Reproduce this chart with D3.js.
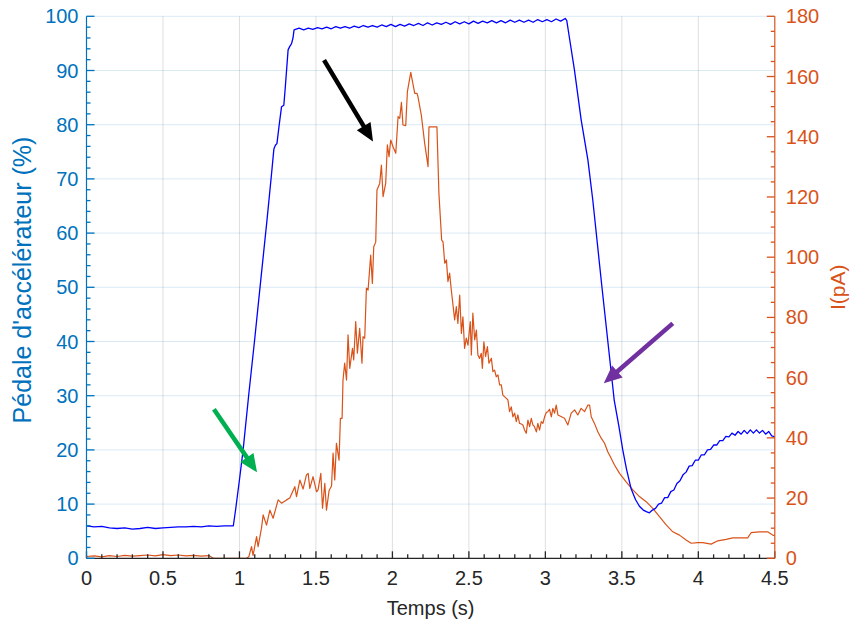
<!DOCTYPE html>
<html><head><meta charset="utf-8">
<script src="https://cdn.jsdelivr.net/npm/d3@7"></script>
<style>body{margin:0;background:#fff}svg text{font-family:"Liberation Sans",Arial,sans-serif}</style>
</head><body><svg id="c" width="852" height="623"></svg>
<script>
// ---- data ----
const pedalTime = [0,0.05,0.1,0.15,0.2,0.25,0.3,0.35,0.4,0.45,0.5,0.55,0.6,0.65,0.7,0.75,0.8,0.85,0.9,0.95,0.96,0.975,1.0,1.024,1.06,1.1,1.14,1.18,1.21,1.225,1.235,1.245,1.26,1.275,1.29,1.3,1.318,1.33,1.34,1.35,1.357,
1.39,1.42,1.45,1.48,1.51,1.54,1.57,1.60,1.63,1.66,1.69,1.72,1.75,1.78,1.81,1.84,1.87,1.90,1.93,1.96,1.99,2.02,2.05,2.08,2.11,2.14,2.17,2.20,2.23,2.26,2.29,2.32,2.35,2.38,2.41,2.44,2.47,2.50,2.53,2.56,2.59,2.62,2.65,2.68,2.71,2.74,2.77,2.80,2.83,2.86,2.89,2.92,2.95,2.98,3.01,3.04,3.07,3.10,3.13,3.14,
3.158,3.19,3.234,3.278,3.31,3.37,3.45,3.48,3.506,3.53,3.56,3.59,3.615,3.64,3.66,
3.68,3.70,3.72,3.74,3.76,3.78,3.80,3.82,3.84,3.86,3.88,3.90,3.92,3.94,3.96,3.98,4.00,4.02,4.04,4.06,4.08,4.10,4.12,4.14,4.16,4.18,4.20,4.22,4.24,4.26,4.28,4.30,4.32,4.34,4.36,4.38,4.40,4.42,4.44,4.46,4.48,4.50];
const pedalValue = [6.0,5.8,5.9,5.6,5.5,5.6,5.4,5.5,5.7,5.5,5.6,5.7,5.8,5.8,5.9,5.8,6.0,5.9,6.0,6.0,6.0,9,14.5,20,30,40.5,51.5,62.4,71,75.5,76.2,76.5,80,83.3,83.6,87,93.8,94.5,94.9,96,97.5,
97.8,97.5,97.8,97.6,97.9,97.7,98.0,97.7,98.1,97.8,98.1,97.8,98.2,97.9,98.3,98.0,98.3,98.0,98.4,98.1,98.5,98.1,98.5,98.2,98.6,98.3,98.7,98.3,98.8,98.4,98.8,98.5,98.9,98.5,99.0,98.6,99.0,98.6,99.1,98.7,99.1,98.8,99.2,98.8,99.2,98.8,99.3,98.9,99.3,98.9,99.3,98.9,99.4,99.0,99.4,99.0,99.5,99.1,99.6,99.2,
95.9,90.1,80.9,73.5,66.1,50,29.2,24.5,20,16.5,12.9,10.8,9.6,8.9,8.6,
8.4,8.9,9.2,10.0,10.2,11.2,11.2,12.3,12.6,13.8,14.3,15.4,15.9,17.0,17.1,18.1,18.1,19.1,19.1,20.0,20.1,20.9,20.9,21.7,21.7,22.5,22.4,23.1,22.7,23.4,22.9,23.6,23.0,23.7,23.1,23.7,23.1,23.6,22.9,23.4,22.6,22.4];

const currentTime = [0,0.05,0.1,0.15,0.2,0.25,0.3,0.35,0.4,0.45,0.5,0.55,0.6,0.65,0.7,0.75,0.8,0.82,0.83,1.046,
1.061,1.079,1.089,1.112,1.122,1.144,1.155,1.177,1.199,1.220,1.253,1.275,1.308,1.329,1.362,1.373,1.395,1.416,1.438,1.449,1.460,1.481,1.504,1.514,1.532,1.543,1.558,1.569,1.586,1.602,1.612,1.623,1.634,1.651,1.660,1.671,1.677,1.688,1.700,1.710,1.721,1.739,1.747,1.760,1.771,1.786,1.801,1.808,1.819,1.830,1.841,1.858,1.869,1.878,1.891,1.899,1.917,1.928,1.939,1.956,1.967,1.978,1.989,2.004,2.022,2.037,2.048,2.059,2.069,2.087,2.098,2.120,2.146,2.161,2.167,2.189,2.211,2.233,2.239,2.291,2.304,2.322,2.331,2.342,2.353,2.363,2.374,2.385,2.407,2.418,2.428,2.440,2.451,2.461,2.472,2.483,2.494,2.509,2.516,2.526,2.538,2.549,2.559,2.570,2.581,2.588,2.598,2.609,2.621,2.631,2.647,2.657,2.668,2.679,2.690,2.701,2.712,2.722,2.745,2.755,2.766,2.777,2.788,2.799,2.810,2.820,2.831,2.843,2.853,2.864,2.875,2.886,2.897,2.908,2.918,2.929,2.941,2.951,2.962,2.973,2.984,2.995,3.006,3.016,3.027,3.039,3.049,3.060,3.071,3.082,3.125,3.147,3.169,3.191,3.212,3.234,3.256,3.278,3.289,3.300,3.321,3.343,3.365,3.387,3.408,3.430,3.452,3.485,3.528,3.572,3.615,3.659,3.702,3.746,3.790,3.833,3.877,3.920,3.953,3.996,4.029,4.084,4.127,4.182,4.225,4.280,4.323,4.345,4.399,4.453,4.486,4.5];
const currentValue = [0.6,0.8,0.5,0.9,0.6,1.0,0.7,0.9,1.1,0.8,1.2,0.9,1.1,0.8,1.0,0.7,0.9,0.3,0,0,
0.5,3.9,1,7.2,3.9,10,14.4,11,16,13.3,19.4,18.3,19.4,20,23.8,20.5,26,23,27.7,28.2,23.2,27.1,22.1,22.7,28.2,16.6,24.9,16,22.5,24,34.9,26,38.2,32.6,46.5,46.5,59.2,64.8,59.2,74.2,63.1,69.7,65.9,78.6,68.1,76.4,64.8,73.6,73.1,89.7,89.1,100.7,91.3,103.5,105,122.3,124.5,130.6,120.1,124.5,137.3,133.4,138.9,136.7,134.5,146.7,146.1,151.4,143.9,143.7,155,161.4,154.4,154.4,153.3,147.2,137.8,130.1,143.3,143.3,121.2,105.7,105.1,98,99.1,91.9,94.7,89.1,79.2,83.6,78,87.4,74.7,80.2,69.7,73.1,70.8,78.6,67.5,81.4,72.5,75.8,67.5,66.4,68.1,63.1,71.9,67,70.3,64.8,66.4,62,62.5,60.3,60.9,57.6,57.6,54.2,53.1,52.6,48.7,50.3,47,48.2,45.4,47.6,44.8,44.6,44.3,42.6,41.5,45.9,43.7,46.5,44.3,43.7,42,44.8,42.6,45.4,44.8,47,48.4,48.7,49.5,47,49.8,48.2,50.9,47.6,46.5,44.3,48.2,49.3,47.6,49.8,48.7,50.9,50.9,47,44.8,42,39.9,38.2,35.4,33.2,31,28.2,25.4,22.7,20.5,18.8,16.6,13.8,11.1,8.8,7.7,6.1,5,5.2,5.2,4.7,5.8,6.3,6.8,6.8,6.8,8.5,8.8,8.8,7.7,7.5];

const xTicks = [0,0.5,1,1.5,2,2.5,3,3.5,4,4.5];
const xTickLabels = ["0","0.5","1","1.5","2","2.5","3","3.5","4","4.5"];
const leftTicks = [0,10,20,30,40,50,60,70,80,90,100];
const rightTicks = [0,20,40,60,80,100,120,140,160,180];
const xLabel = "Temps (s)";
const leftLabel = "Pédale d'accélérateur (%)";
const rightLabel = "I(pA)";
// arrows in data coords (time, pedal %)
const arrowNames = ["green","black","purple"];
const arrowFrom = [[0.833,27.5],[1.553,91.9],[3.833,43.35]];
const arrowTo = [[1.115,15.86],[1.873,76.9],[3.382,32.3]];
const arrowColors = ["#00B050","#000000","#7030A0"];

// ---- chart ----
const svg = d3.select("#c");
const L = 86.5, R = 774.8, T = 16.3, B = 558.3;
const cBlue = "#0072BD", cOrange = "#D95319", cAx = "#262626";
const x = d3.scaleLinear().domain([0,4.5]).range([L,R]);
const yL = d3.scaleLinear().domain([0,100]).range([B,T]);
const yR = d3.scaleLinear().domain([0,180]).range([B,T]);

// grids
svg.append("g").selectAll("line").data(xTicks.slice(1,-1)).join("line")
  .attr("x1",d=>x(d)).attr("x2",d=>x(d)).attr("y1",T).attr("y2",B)
  .attr("stroke","rgba(38,38,38,0.15)").attr("stroke-width",1);
svg.append("g").selectAll("line").data(leftTicks.slice(1)).join("line")
  .attr("x1",L).attr("x2",R).attr("y1",d=>yL(d)).attr("y2",d=>yL(d))
  .attr("stroke","rgba(0,114,189,0.15)").attr("stroke-width",1);

// lines
const lineP = d3.line().x((d,i)=>x(pedalTime[i])).y(d=>yL(d));
const lineC = d3.line().x((d,i)=>x(currentTime[i])).y(d=>yR(d));
svg.append("path").attr("d",lineC(currentValue)).attr("fill","none").attr("stroke",cOrange).attr("stroke-width",1.2).attr("stroke-linejoin","round");
svg.append("path").attr("d",lineP(pedalValue)).attr("fill","none").attr("stroke","#0000FF").attr("stroke-width",1.3).attr("stroke-linejoin","round");

// axes
const fs = 20;
const gx = svg.append("g").attr("transform",`translate(0,${B})`);
gx.append("line").attr("x1",L).attr("x2",R).attr("y1",0).attr("y2",0).attr("stroke",cAx).attr("stroke-width",1.2);
gx.selectAll("line.tk").data(d3.range(0,46)).join("line").attr("class","tk")
  .attr("x1",d=>x(d/10)).attr("x2",d=>x(d/10)).attr("y1",0).attr("y2",d=>d%5===0?-7:-4)
  .attr("stroke",cAx).attr("stroke-width",1.3);
gx.selectAll("text").data(xTicks).join("text")
  .attr("x",d=>x(d)).attr("y",27).attr("text-anchor","middle").attr("font-size",fs).attr("fill",cAx)
  .text((d,i)=>xTickLabels[i]);

const gl = svg.append("g");
gl.append("line").attr("x1",L).attr("x2",L).attr("y1",T).attr("y2",B).attr("stroke",cBlue).attr("stroke-width",1.2);
gl.selectAll("line.tk").data(d3.range(0,51)).join("line").attr("class","tk")
  .attr("x1",L).attr("x2",d=>d%5===0?L+8:L+4).attr("y1",d=>yL(d*2)).attr("y2",d=>yL(d*2))
  .attr("stroke",cBlue).attr("stroke-width",1.3);
gl.selectAll("text").data(leftTicks).join("text")
  .attr("x",L-8).attr("y",d=>yL(d)+7).attr("text-anchor","end").attr("font-size",fs).attr("fill",cBlue).text(d=>d);
svg.append("text").attr("transform",`translate(31,280) rotate(-90)`).attr("text-anchor","middle")
  .attr("font-size",25).attr("fill",cBlue).text(leftLabel);

const gr = svg.append("g");
gr.append("line").attr("x1",R).attr("x2",R).attr("y1",T).attr("y2",B).attr("stroke",cOrange).attr("stroke-width",1.2);
gr.selectAll("line.tk").data(d3.range(0,37)).join("line").attr("class","tk")
  .attr("x1",R).attr("x2",d=>d%4===0?R-8:R-4).attr("y1",d=>yR(d*5)).attr("y2",d=>yR(d*5))
  .attr("stroke",cOrange).attr("stroke-width",1.3);
gr.selectAll("text").data(rightTicks).join("text")
  .attr("x",R+11).attr("y",d=>yR(d)+7).attr("text-anchor","start").attr("font-size",fs).attr("fill",cOrange).text(d=>d);
svg.append("text").attr("transform",`translate(845,${(T+B)/2}) rotate(-90)`).attr("text-anchor","middle")
  .attr("font-size",21).attr("fill",cOrange).text(rightLabel);

svg.append("text").attr("x",(L+R)/2).attr("y",615).attr("text-anchor","middle").attr("font-size",fs).attr("fill",cAx).text(xLabel);

// arrows
arrowNames.forEach((n,i)=>{
  const x0=x(arrowFrom[i][0]), y0=yL(arrowFrom[i][1]), x1=x(arrowTo[i][0]), y1=yL(arrowTo[i][1]);
  const dx=x1-x0, dy=y1-y0, len=Math.hypot(dx,dy), ux=dx/len, uy=dy/len;
  const hl=18, hw=8;
  const bx=x1-ux*hl, by=y1-uy*hl;
  svg.append("line").attr("x1",x0).attr("y1",y0).attr("x2",bx+ux*2).attr("y2",by+uy*2)
    .attr("stroke",arrowColors[i]).attr("stroke-width",4.5);
  svg.append("path").attr("d",`M${x1},${y1}L${bx-uy*hw},${by+ux*hw}L${bx+uy*hw},${by-ux*hw}Z`).attr("fill",arrowColors[i]);
});
</script></body></html>
